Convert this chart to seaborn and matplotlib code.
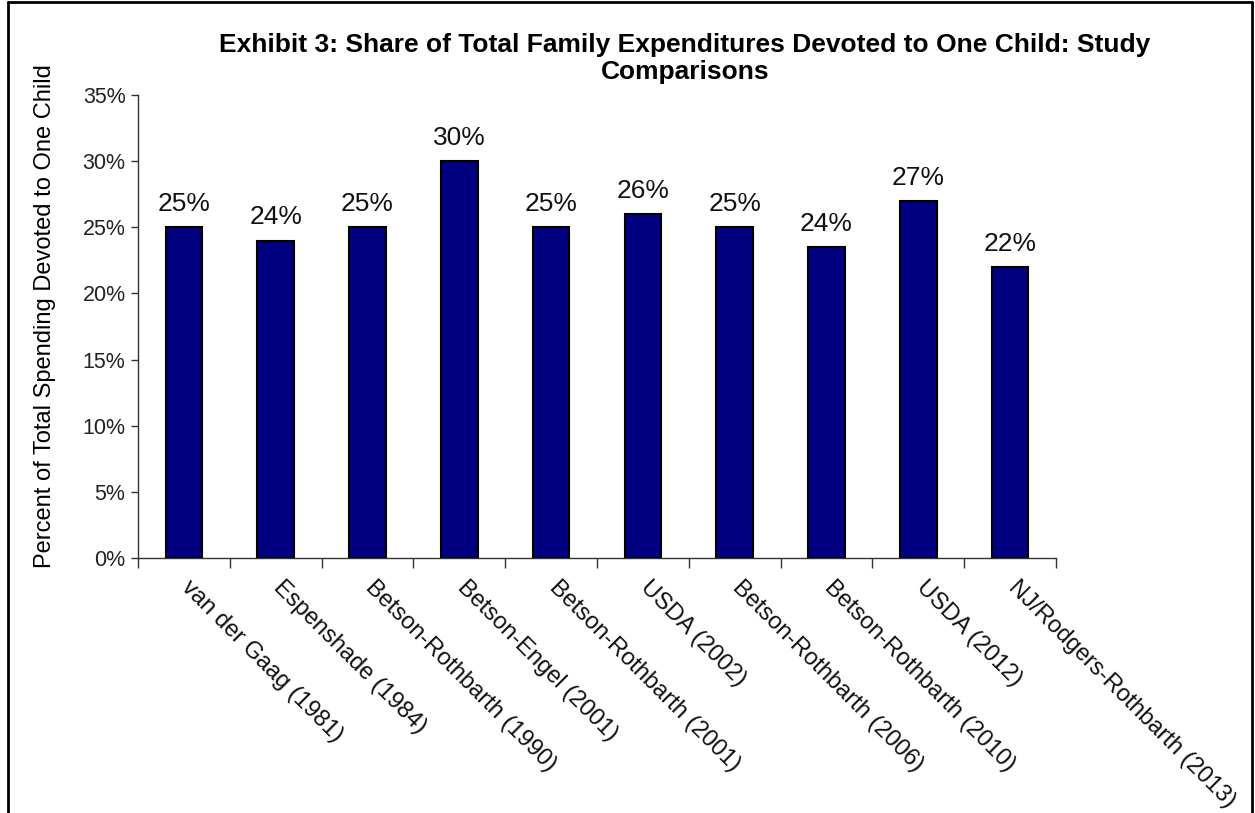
import matplotlib
matplotlib.use("Agg")
import matplotlib.pyplot as plt
import matplotlib.transforms as mtransforms
import seaborn as sns
import pandas as pd
from matplotlib.lines import Line2D
from matplotlib.ticker import FixedLocator, PercentFormatter

studies = ["van der Gaag (1981)", "Espenshade (1984)", "Betson-Rothbarth (1990)",
           "Betson-Engel (2001)", "Betson-Rothbarth (2001)", "USDA (2002)",
           "Betson-Rothbarth (2006)", "Betson-Rothbarth (2010)", "USDA (2012)",
           "NJ/Rodgers-Rothbarth (2013)"]
shares = [25, 24, 25, 30, 25, 26, 25, 23.5, 27, 22]
labels = ["25%", "24%", "25%", "30%", "25%", "26%", "25%", "24%", "27%", "22%"]
yticks = [0, 5, 10, 15, 20, 25, 30, 35]

sns.set_style("white")
plt.rcParams["font.family"] = ["Liberation Sans", "DejaVu Sans"]
plt.rcParams["text.color"] = "black"
plt.rcParams["axes.labelcolor"] = "black"
plt.rcParams["xtick.color"] = "black"
plt.rcParams["ytick.color"] = "black"

df = pd.DataFrame({"study": studies, "share": shares})

fig = plt.figure(figsize=(12.55, 8.13), dpi=100)
ax = fig.add_axes([138/1255, 1 - 558/813, (1056-138)/1255, (558-95)/813])

sns.barplot(data=df, x="study", y="share", color="#000080", width=0.40,
            edgecolor="black", linewidth=1.5, saturation=1, ax=ax)

ax.set_xlim(-0.5, len(studies) - 0.5)
ax.set_ylim(0, 35)
ax.set_yticks(yticks)
ax.yaxis.set_major_formatter(PercentFormatter(decimals=0))
ax.tick_params(axis="y", labelsize=15.5, length=5, width=1, direction="out",
               left=True, colors="#333333", labelcolor="#222222", pad=4)

ax.set_xticks(range(len(studies)))
ax.set_xticklabels(studies, rotation=-45, ha="left", va="top",
                   rotation_mode="anchor", fontsize=17, color="#111111")
ax.tick_params(axis="x", which="major", length=0, pad=13)
shift = mtransforms.ScaledTranslation(9/100, 0, fig.dpi_scale_trans)
for t in ax.get_xticklabels():
    t.set_transform(t.get_transform() + shift)
ax.xaxis.set_minor_locator(FixedLocator([i + 0.5 for i in range(-1, len(studies))]))
ax.tick_params(axis="x", which="minor", length=7, width=1, bottom=True,
               direction="out", colors="#333333")

for s in ["top", "right"]:
    ax.spines[s].set_visible(False)
for s in ["left", "bottom"]:
    ax.spines[s].set_color("#333333")
    ax.spines[s].set_linewidth(1)

for i, (v, lab) in enumerate(zip(shares, labels)):
    ax.annotate(lab, (i, v), xytext=(0, 8), textcoords="offset points",
                ha="center", va="bottom", fontsize=19, color="#111111")

ax.set_xlabel("")
ax.set_ylabel("Percent of Total Spending Devoted to One Child", fontsize=17)
ax.yaxis.set_label_coords(-82/918, (558-316)/463)

fig.text(685/1255, 1 - 58.5/813,
         "Exhibit 3: Share of Total Family Expenditures Devoted to One Child: Study\nComparisons",
         ha="center", va="center", fontsize=19, fontweight="bold", linespacing=1.2)

# outer frame (left, top, right)
fig.add_artist(Line2D([8/1255, 8/1255], [0, 1 - 2/813], transform=fig.transFigure, color="black", lw=2))
fig.add_artist(Line2D([8/1255, 1252/1255], [1 - 2/813, 1 - 2/813], transform=fig.transFigure, color="black", lw=2))
fig.add_artist(Line2D([1252/1255, 1252/1255], [0, 1 - 2/813], transform=fig.transFigure, color="black", lw=2))

fig.savefig("out.png", dpi=100, facecolor="white")
